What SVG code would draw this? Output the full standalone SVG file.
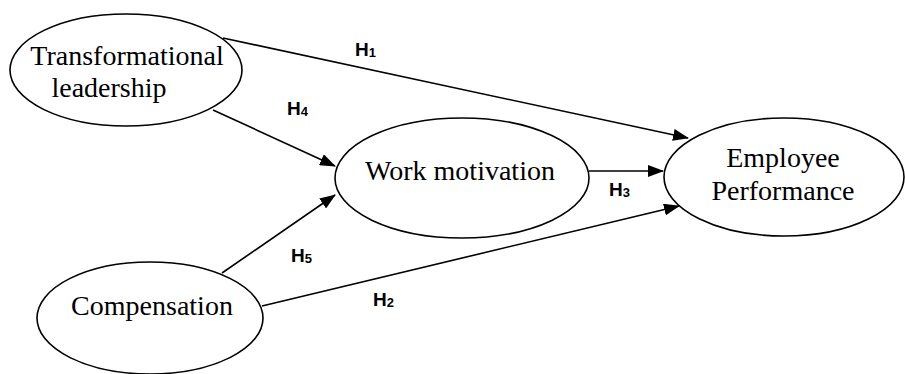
<svg xmlns="http://www.w3.org/2000/svg" width="905" height="374" viewBox="0 0 905 374">
<style>
.node ellipse{fill:#fff;stroke:#000;stroke-width:1.6}
.node text{font-family:"Liberation Serif","Times New Roman",serif;font-size:28px;fill:#000;text-anchor:middle}
.edges line{stroke:#000;stroke-width:1.6;marker-end:url(#arr)}
.lbl{font-family:"Liberation Sans",Arial,sans-serif;font-weight:bold;font-size:19px;fill:#000}
.sub{font-size:13px}
</style>
<defs>
<marker id="arr" viewBox="0 0 16 12" refX="15" refY="6" markerWidth="16" markerHeight="12" markerUnits="userSpaceOnUse" orient="auto">
<path d="M0,0 L16,6 L0,12 z" fill="#000"/>
</marker>
</defs>
<rect width="905" height="374" fill="#fff"/>
<g id="transformational" class="node">
<ellipse cx="126" cy="70" rx="116" ry="56"/>
<text x="127" y="65">Transformational</text>
<text x="109" y="97">leadership</text>
</g>
<g id="work-motivation" class="node">
<ellipse cx="462" cy="178" rx="127" ry="60"/>
<text x="460" y="180">Work motivation</text>
</g>
<g id="employee-performance" class="node">
<ellipse cx="784" cy="177" rx="120" ry="59"/>
<text x="783" y="167">Employee</text>
<text x="783" y="200">Performance</text>
</g>
<g id="compensation" class="node">
<ellipse cx="150" cy="318" rx="113" ry="56"/>
<text x="152" y="315">Compensation</text>
</g>
<g class="edges" id="connectors">
<line x1="223" y1="38" x2="688" y2="138"/>
<line x1="213" y1="110" x2="335" y2="166"/>
<line x1="222" y1="273" x2="335" y2="195"/>
<line x1="262" y1="306" x2="679" y2="206"/>
<line x1="589" y1="171" x2="663" y2="171"/>
</g>
<g id="labels">
<text class="lbl" x="355" y="56">H<tspan class="sub" dy="1">1</tspan></text>
<text class="lbl" x="287" y="115">H<tspan class="sub" dy="1">4</tspan></text>
<text class="lbl" x="291" y="262">H<tspan class="sub" dy="1">5</tspan></text>
<text class="lbl" x="373" y="306">H<tspan class="sub" dy="1">2</tspan></text>
<text class="lbl" x="609" y="196">H<tspan class="sub" dy="1">3</tspan></text>
</g>
</svg>
